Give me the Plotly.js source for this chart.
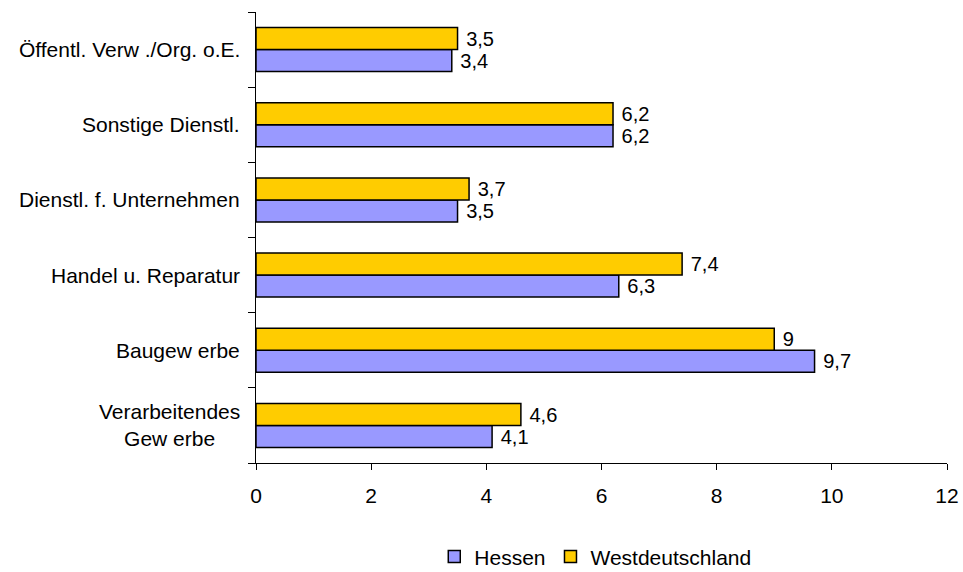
<!DOCTYPE html>
<html>
<head>
<meta charset="utf-8">
<script src="https://cdn.plot.ly/plotly-3.0.1.min.js"></script>
<style>html,body{margin:0;padding:0;background:#fff}#chart{width:963px;height:572px}</style>
</head>
<body>
<div id="chart"></div>
<script>
const categories = ["Verarbeitendes Gewerbe", "Baugewerbe", "Handel u. Reparatur", "Dienstl. f. Unternehmen", "Sonstige Dienstl.", "Öffentl. Verw./Org. o.E."];
const categoryLabels = ["Verarbeitendes<br>Gew erbe", "Baugew erbe", "Handel u. Reparatur", "Dienstl. f. Unternehmen", "Sonstige Dienstl.", "Öffentl. Verw ./Org. o.E."];
const hessen = [4.1, 9.7, 6.3, 3.5, 6.2, 3.4];
const westdeutschland = [4.6, 9, 7.4, 3.7, 6.2, 3.5];
const xTicks = [0, 2, 4, 6, 8, 10, 12];

const font = {family: "Liberation Sans, Arial, sans-serif", size: 21, color: "#000"};

const traces = [
  {type: "bar", orientation: "h", name: "Hessen", y: categories, x: hessen,
   marker: {color: "#9999FF", line: {color: "#000", width: 1.5}},
   texttemplate: " %{x}", textposition: "outside", cliponaxis: false,
   textfont: font, hoverinfo: "x+y"},
  {type: "bar", orientation: "h", name: "Westdeutschland", y: categories, x: westdeutschland,
   marker: {color: "#FFCC00", line: {color: "#000", width: 1.5}},
   texttemplate: " %{x}", textposition: "outside", cliponaxis: false,
   textfont: font, hoverinfo: "x+y"}
];

const annotations = categories.map((c, i) => ({
  xref: "paper", yref: "y", x: 0, y: c, xanchor: "right", yanchor: "middle",
  xshift: -14, text: categoryLabels[i], showarrow: false, align: "center", font: font
}));

const layout = {
  width: 963, height: 572,
  margin: {l: 256, r: 16, t: 12, b: 109, autoexpand: false},
  paper_bgcolor: "#fff", plot_bgcolor: "#fff",
  font: font,
  separators: ",.",
  barmode: "group",
  bargap: 0.415,
  bargroupgap: 0,
  showlegend: true,
  legend: {orientation: "h", x: 0.491, xanchor: "center", y: -0.208, yanchor: "middle",
           font: font, traceorder: "normal", itemwidth: 30},
  annotations: annotations,
  xaxis: {range: [0, 12], tickvals: xTicks, ticktext: xTicks.map(String), showgrid: false, zeroline: false,
          showline: true, linecolor: "#000", linewidth: 1, ticks: "outside", ticklen: 6, tickcolor: "#000",
          tickfont: font, ticklabelstandoff: 8, fixedrange: true},
  yaxis: {type: "category", categoryarray: categories, showgrid: false, zeroline: false, showline: true,
          linecolor: "#000", linewidth: 1, ticks: "outside", tickson: "boundaries", ticklen: 7,
          tickcolor: "#000", showticklabels: false, fixedrange: true}
};

Plotly.newPlot("chart", traces, layout, {displayModeBar: false, staticPlot: true});
</script>
</body>
</html>
